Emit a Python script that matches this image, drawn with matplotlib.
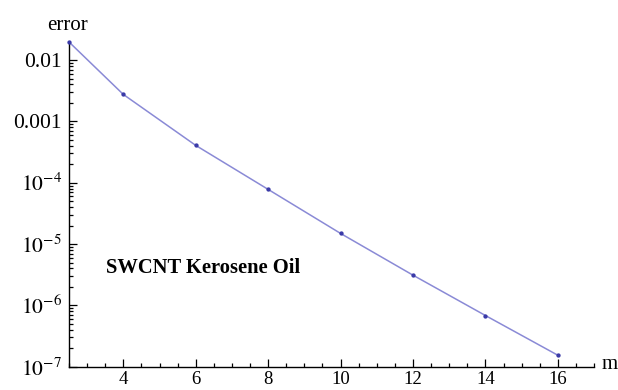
import numpy as np
import matplotlib
matplotlib.use("Agg")
import matplotlib.pyplot as plt
from matplotlib.ticker import FixedLocator, FuncFormatter, LogLocator, MultipleLocator

plt.rcParams["font.family"] = ["Liberation Serif", "DejaVu Serif"]
plt.rcParams["mathtext.fontset"] = "stix"

# data
m = [2.5, 4, 6, 8, 10, 12, 14, 16]
error = [1.97e-2, 2.75e-3, 4.06e-4, 7.78e-5, 1.49e-5, 3.11e-6, 6.84e-7, 1.54e-7]

y_ticks = [1e-2, 1e-3, 1e-4, 1e-5, 1e-6, 1e-7]
y_labels = ["0.01", "0.001", r"$10^{-4}$", r"$10^{-5}$", r"$10^{-6}$", r"$10^{-7}$"]
x_ticks = [4, 6, 8, 10, 12, 14, 16]

fig = plt.figure(figsize=(6.18, 3.9), dpi=100)
ax = fig.add_axes([0.1117, 0.0597, 0.8495, 0.8326])

ax.plot(m, error, color="#8a8ad6", lw=1.1, zorder=2)
ax.plot(m, error, ls="none", marker="o", ms=2.1, color="#3a3aa8", zorder=3, clip_on=False)

ax.set_yscale("log")
ax.set_xlim(2.5, 17.0)
ax.set_ylim(1e-7, 1.97e-2)

ax.xaxis.set_major_locator(FixedLocator(x_ticks))
ax.xaxis.set_minor_locator(MultipleLocator(0.5))
ax.yaxis.set_major_locator(FixedLocator(y_ticks))
ax.yaxis.set_major_formatter(FuncFormatter(lambda v, p: y_labels[y_ticks.index(v)] if v in y_ticks else ""))
ax.yaxis.set_minor_locator(LogLocator(base=10, subs=np.arange(2, 10)))
ax.yaxis.set_minor_formatter(FuncFormatter(lambda v, p: ""))

ax.tick_params(which="both", direction="in", color="black", width=0.9)
ax.tick_params(which="major", length=6)
ax.tick_params(which="minor", length=3)
ax.tick_params(axis="y", which="major", labelsize=15.5, pad=5)
ax.tick_params(axis="x", which="major", labelsize=13.5, pad=3)

for s in ["top", "right"]:
    ax.spines[s].set_visible(False)
for s in ["left", "bottom"]:
    ax.spines[s].set_linewidth(1.0)

fig.text(0.110, 0.935, "error", fontsize=15, ha="center", va="center")
fig.text(0.986, 0.066, "m", fontsize=15, ha="center", va="center")
fig.text(0.171, 0.313, "SWCNT Kerosene Oil", fontsize=14.8, fontweight="bold", ha="left", va="center")

fig.savefig("out.png", dpi=100)
